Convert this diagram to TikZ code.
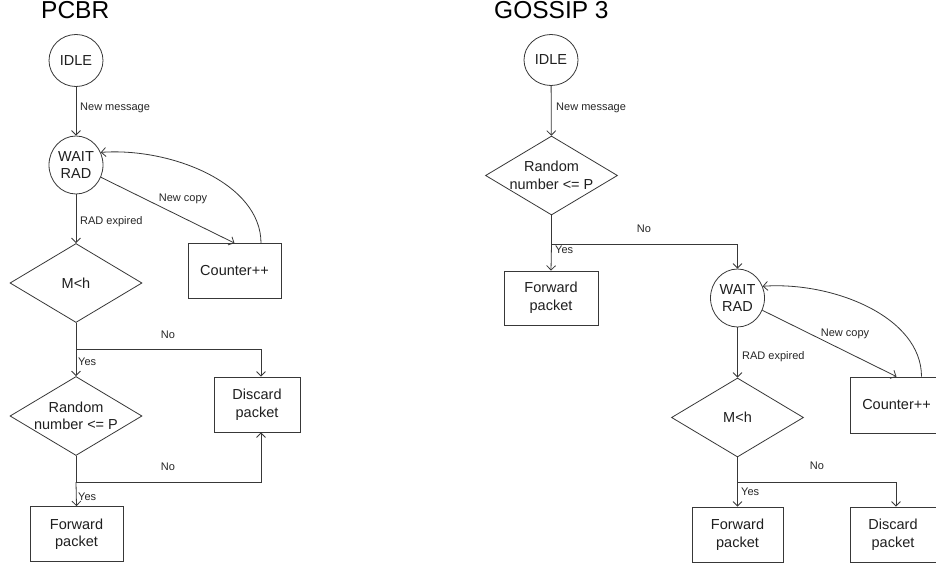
\documentclass[tikz,border=0pt]{standalone}
\usepackage{fontspec}
\setmainfont{Liberation Sans}
\usetikzlibrary{shapes.geometric,arrows.meta}
\newcommand\ndfont{\fontsize{14.5}{17.5}\selectfont}
\newcommand\lblfont{\fontsize{11}{13}\selectfont}
\newcommand\ttlfont{\fontsize{24.5}{29}\selectfont}
\begin{document}
\begin{tikzpicture}[x=1pt,y=-1pt,
  ln/.style={draw=black!78, line width=0.8pt},
  arr/.style={ln, -{Straight Barb[length=4.5pt,width=9pt]}},
  state/.style={ellipse, ln, inner sep=0pt, minimum width=54pt, align=center, font=\ndfont, text=black!88},
  dec/.style={diamond, ln, inner sep=0pt, minimum width=132pt, minimum height=79pt},
  dtxt/.style={inner sep=0pt, align=center, font=\ndfont, text=black!88},
  box/.style={rectangle, ln, inner sep=0pt, minimum width=93pt, minimum height=55pt, align=center, font=\ndfont, text=black!88},
  lbl/.style={inner sep=0pt, font=\lblfont, text=black!85},
  ttl/.style={inner sep=0pt, font=\ttlfont, text=black}]
\fill[white] (0,0) rectangle (936,569);
\useasboundingbox (0,0) rectangle (936,569);

% ---------------- PCBR ----------------
\node[ttl, anchor=base west] (t1) at (41,18.3) {PCBR};
\node[state, minimum height=52pt] (idle1) at (76,60.5) {IDLE};
\node[state, minimum height=58pt] (wait1) at (76,165) {WAIT\\RAD};
\node[dec] (m1) at (76,283) {};
\node[dtxt] (m1t) at (m1) {M<h};
\node[dec] (r1) at (76,416) {};
\node[dtxt] (r1t) at (r1) {Random\\number <= P};
\node[box] (c1) at (234.5,271) {Counter++};
\node[box, minimum width=86pt] (d1) at (257,404.5) {Discard\\packet};
\node[box] (f1) at (76.5,534) {Forward\\packet};
\coordinate (j1) at (76,349);
\coordinate (j2) at (76,482);

\draw[arr] (idle1) -- (wait1);
\draw[arr] (wait1) -- (m1);
\draw[arr] (wait1) -- (c1.north);
\draw[arr] ([xshift=26.5pt]c1.north) .. controls +(0,-60) and +(70,-5) .. (wait1.27);
\draw[ln] (m1.south) -- (j1);
\draw[arr] (j1) -| ([xshift=4pt]d1.north);
\draw[arr] (j1) -- (r1.north);
\draw[ln] (r1.south) -- (j2);
\draw[arr] (j2) -| ([xshift=4pt]d1.south);
\draw[arr] (j2) -- (f1.north);

\node[lbl, anchor=west] (l1) at (80,108) {New message};
\node[lbl, anchor=west] (l2) at (80,222) {RAD expired};
\node[lbl] (l3) at (183,199) {New copy};
\node[lbl] (l4) at (168,335) {No};
\node[lbl, anchor=west] (l5) at (78,362) {Yes};
\node[lbl] (l6) at (168,467) {No};
\node[lbl, anchor=west] (l7) at (78,497) {Yes};

% ---------------- GOSSIP 3 ----------------
\node[ttl, anchor=base west] (t2) at (494,18.3) {GOSSIP 3};
\node[state, minimum height=51pt] (idle2) at (551,60) {IDLE};
\node[dec] (r2) at (551.5,175.5) {};
\node[dtxt] (r2t) at (r2) {Random\\number <= P};
\node[box, minimum width=94pt, minimum height=54pt] (f2) at (551,298) {Forward\\packet};
\node[state, minimum height=58pt] (wait2) at (737.5,298) {WAIT\\RAD};
\node[dec] (m2) at (737.5,417.5) {};
\node[dtxt] (m2t) at (m2) {M<h};
\node[box, minimum height=56pt] (c2) at (896.5,405) {Counter++};
\node[box, minimum width=91pt] (f3) at (737.5,534.5) {Forward\\packet};
\node[box, minimum width=86pt] (d2) at (893,534.5) {Discard\\packet};
\coordinate (j3) at (551.5,244);
\coordinate (j4) at (737.5,482);

\draw[arr] (idle2) -- (r2);
\draw[ln] (r2.south) -- (j3);
\draw[arr] (j3) -- (f2.north);
\draw[arr] (j3) -| (wait2.north);
\draw[arr] (wait2) -- (m2);
\draw[arr] (wait2) -- (c2.north);
\draw[arr] ([xshift=25pt]c2.north) .. controls +(0,-60) and +(70,-5) .. (wait2.25);
\draw[ln] (m2.south) -- (j4);
\draw[arr] (j4) -- (f3.north);
\draw[arr] (j4) -| ([xshift=3pt]d2.north);

\node[lbl, anchor=west] (l8) at (556,108) {New message};
\node[lbl] (l9) at (644,229) {No};
\node[lbl, anchor=west] (l10) at (555,250) {Yes};
\node[lbl] (l11) at (845,334) {New copy};
\node[lbl, anchor=west] (l12) at (742,357) {RAD expired};
\node[lbl] (l13) at (817,466) {No};
\node[lbl, anchor=west] (l14) at (741,492) {Yes};
\end{tikzpicture}
\end{document}
